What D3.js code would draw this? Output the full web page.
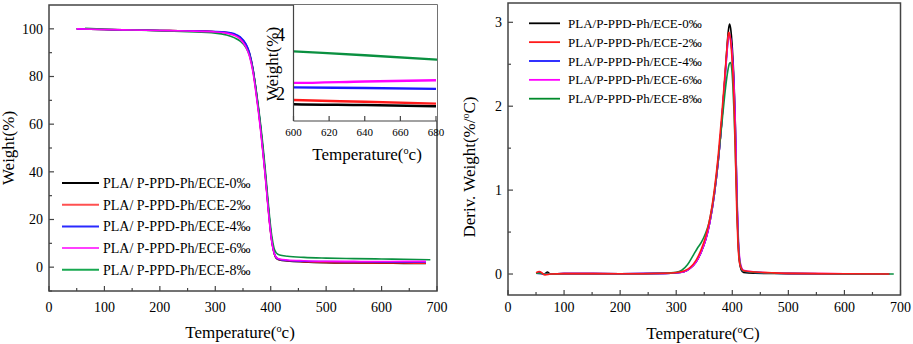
<!DOCTYPE html>
<html>
<head>
<meta charset="utf-8">
<script src="https://cdn.jsdelivr.net/npm/d3@7"></script>
<style>
  body { margin: 0; background: #fff; }
  svg { font-family: "Liberation Serif", "Times New Roman", serif; }
</style>
</head>
<body>
<div id="chart"></div>
<script>
// series names / colours
const namesL = ["PLA/ P-PPD-Ph/ECE-0‰", "PLA/ P-PPD-Ph/ECE-2‰", "PLA/ P-PPD-Ph/ECE-4‰", "PLA/ P-PPD-Ph/ECE-6‰", "PLA/ P-PPD-Ph/ECE-8‰"];
const namesR = ["PLA/P-PPD-Ph/ECE-0‰", "PLA/P-PPD-Ph/ECE-2‰", "PLA/P-PPD-Ph/ECE-4‰", "PLA/P-PPD-Ph/ECE-6‰", "PLA/P-PPD-Ph/ECE-8‰"];
const colors = ["#000000", "#ff1a1a", "#1a1aff", "#ff00ff", "#0a9040"];
const legendColorsL = ["#000000", "#ff5050", "#2a2aff", "#ff40ff", "#18a850"];

// TGA curves: [temperature, weight %]
const tga0 = [[50,100],[100,99.7],[150,99.5],[200,99.3],[250,99.1],[300,98.8],[320,98.4],[335,97.6],[345,96.3],[355,93.5],[362,89.5],[368,83],[373,75],[378,66],[382,58],[386,49],[390,39.5],[394,29],[398,19],[402,11],[406,6],[410,3.8],[416,3.0],[430,2.6],[460,2.2],[500,1.9],[550,1.75],[600,1.64],[640,1.61],[680,1.57]];
const tga2 = [[50,100],[100,99.7],[150,99.5],[200,99.3],[250,99.1],[300,98.8],[320,98.4],[335,97.5],[345,96.2],[355,93.2],[362,89],[368,82.5],[373,74.5],[378,65.5],[382,57.5],[386,48.5],[390,39],[394,28.5],[398,18.5],[402,10.8],[406,6],[410,3.9],[416,3.1],[430,2.7],[460,2.3],[500,2.0],[550,1.85],[600,1.78],[640,1.72],[680,1.66]];
const tga4 = [[50,100],[100,99.7],[150,99.5],[200,99.3],[250,99.1],[300,98.9],[320,98.6],[335,97.9],[345,96.6],[355,93.8],[362,89.8],[368,83.3],[373,75.3],[378,66.3],[382,58.3],[386,49.3],[390,39.8],[394,29.3],[398,19.3],[402,11.2],[406,6.2],[410,4.0],[416,3.2],[430,2.8],[460,2.5],[500,2.35],[550,2.27],[600,2.21],[640,2.19],[680,2.16]];
const tga6 = [[50,100],[100,99.7],[150,99.5],[200,99.3],[250,99.1],[300,98.7],[320,98.2],[335,97.2],[345,95.7],[355,92.5],[362,88.3],[368,81.8],[373,73.8],[378,64.8],[382,56.8],[386,47.8],[390,38.5],[394,28],[398,18.3],[402,10.6],[406,6.0],[410,4.2],[416,3.4],[430,3.0],[460,2.7],[500,2.5],[550,2.42],[600,2.36],[640,2.41],[680,2.45]];
const tga8 = [[65,100.2],[100,99.8],[150,99.5],[200,99.2],[250,98.8],[300,98.2],[320,97.4],[335,96.2],[345,94.8],[355,92.2],[362,88.6],[368,82.8],[373,75.5],[378,67],[382,59.5],[386,51],[390,41.5],[394,31],[398,21],[402,13],[406,8],[410,6.0],[416,5.1],[430,4.6],[460,4.1],[500,3.8],[550,3.6],[600,3.43],[640,3.3],[688,3.12]];
const tgaSeries = [tga0, tga2, tga4, tga6, tga8];

// DTG curves: [temperature, deriv. weight %/°C]
const dtg0 = [[50,0.01],[58,0.015],[64,-0.005],[70,0.025],[76,0.0],[100,0.005],[200,0.004],[280,0.008],[300,0.015],[315,0.03],[325,0.07],[335,0.14],[345,0.27],[353,0.42],[360,0.62],[368,0.95],[375,1.35],[381,1.8],[386,2.25],[390,2.65],[393,2.9],[395,2.98],[397,2.93],[400,2.7],[403,2.3],[405,1.9],[407,1.3],[409,0.7],[411,0.32],[413,0.14],[416,0.05],[420,0.02],[440,0.01],[500,0.005],[600,0.002],[680,0.0]];
const dtg2 = [[50,0.015],[56,0.03],[62,0.005],[66,-0.01],[76,0.0],[100,0.005],[200,0.004],[280,0.01],[300,0.018],[315,0.04],[325,0.08],[335,0.16],[345,0.3],[353,0.46],[360,0.66],[368,1.0],[375,1.42],[381,1.88],[386,2.3],[390,2.65],[393,2.86],[394,2.88],[396,2.83],[399,2.62],[402,2.25],[404,1.85],[406,1.3],[408,0.75],[410,0.38],[412,0.18],[415,0.08],[420,0.04],[440,0.025],[470,0.015],[500,0.008],[600,0.003],[680,0.0]];
const dtg4 = [[50,0.01],[76,0.0],[100,0.005],[200,0.004],[280,0.008],[300,0.015],[315,0.03],[325,0.07],[335,0.14],[345,0.27],[353,0.42],[360,0.62],[368,0.95],[375,1.35],[381,1.8],[386,2.25],[390,2.6],[393,2.82],[395,2.86],[397,2.8],[400,2.6],[403,2.25],[405,1.85],[407,1.3],[409,0.75],[411,0.36],[413,0.17],[416,0.07],[420,0.035],[440,0.02],[500,0.006],[600,0.002],[680,0.0]];
const dtg6 = [[50,0.01],[76,0.0],[100,0.005],[200,0.004],[280,0.008],[300,0.015],[315,0.03],[325,0.07],[335,0.14],[345,0.27],[353,0.42],[360,0.62],[368,0.95],[375,1.35],[381,1.8],[386,2.25],[390,2.6],[393,2.82],[395,2.85],[397,2.8],[400,2.6],[403,2.25],[405,1.88],[407,1.35],[409,0.8],[411,0.4],[413,0.2],[416,0.09],[420,0.045],[440,0.025],[500,0.008],[600,0.003],[680,0.0]];
const dtg8 = [[50,0.01],[76,0.0],[100,0.004],[200,0.004],[280,0.01],[300,0.02],[310,0.045],[320,0.11],[330,0.22],[338,0.31],[345,0.38],[352,0.48],[358,0.6],[364,0.8],[370,1.08],[377,1.5],[383,1.9],[388,2.22],[392,2.42],[395,2.51],[397,2.52],[399,2.45],[401,2.25],[403,1.95],[405,1.55],[407,1.1],[409,0.65],[411,0.33],[413,0.16],[416,0.07],[420,0.035],[440,0.02],[500,0.006],[600,0.002],[688,0.0]];
const dtgSeries = [dtg0, dtg2, dtg4, dtg6, dtg8];

const xTicks = [0, 100, 200, 300, 400, 500, 600, 700];
const yTicksL = [0, 20, 40, 60, 80, 100];
const yTicksR = [0, 1, 2, 3];
const insetXTicks = [600, 620, 640, 660, 680];
const insetYTicks = [2, 4];

const svg = d3.select("#chart").append("svg")
  .attr("width", 913).attr("height", 344);

const frameColor = "#444";

function frame(g, x0, y0, x1, y1) {
  g.append("rect").attr("x", x0).attr("y", y0)
    .attr("width", x1 - x0).attr("height", y1 - y0)
    .attr("fill", "none").attr("stroke", frameColor).attr("stroke-width", 1.5);
}

function ticksX(g, x, y, majors, minors, labels, fs, labelDy) {
  minors.forEach(v => g.append("line").attr("x1", x(v)).attr("x2", x(v))
    .attr("y1", y).attr("y2", y - 3).attr("stroke", frameColor).attr("stroke-width", 1.2));
  majors.forEach(v => {
    g.append("line").attr("x1", x(v)).attr("x2", x(v))
      .attr("y1", y).attr("y2", y - 5).attr("stroke", frameColor).attr("stroke-width", 1.2);
    if (labels) g.append("text").attr("x", x(v)).attr("y", y + labelDy)
      .attr("text-anchor", "middle").attr("font-size", fs).text(v);
  });
}

function ticksY(g, y, x, majors, minors, fs, labelDx) {
  minors.forEach(v => g.append("line").attr("y1", y(v)).attr("y2", y(v))
    .attr("x1", x).attr("x2", x + 3).attr("stroke", frameColor).attr("stroke-width", 1.2));
  majors.forEach(v => {
    g.append("line").attr("y1", y(v)).attr("y2", y(v))
      .attr("x1", x).attr("x2", x + 5).attr("stroke", frameColor).attr("stroke-width", 1.2);
    g.append("text").attr("x", x - labelDx).attr("y", y(v))
      .attr("dy", "0.35em").attr("text-anchor", "end").attr("font-size", fs).text(v);
  });
}

function tempLabel(g, x, y, fs, letter) {
  const t = g.append("text").attr("x", x).attr("y", y)
    .attr("text-anchor", "middle").attr("font-size", fs);
  t.append("tspan").text("Temperature(");
  t.append("tspan").attr("font-size", fs * 0.6).attr("dy", -fs * 0.38).text("o");
  t.append("tspan").attr("dy", fs * 0.38).text(letter + ")");
}

// ---------- left panel: TGA ----------
const xL = d3.scaleLinear().domain([0, 700]).range([49, 437]);
const yL = d3.scaleLinear().domain([-10, 110]).range([291, 5]);
const gL = svg.append("g");

const lineL = d3.line().x(d => xL(d[0])).y(d => yL(d[1])).curve(d3.curveMonotoneX);
const drawOrderL = [0, 1, 2, 4, 3];
drawOrderL.forEach(i => gL.append("path").datum(tgaSeries[i])
  .attr("d", lineL).attr("fill", "none").attr("stroke", colors[i]).attr("stroke-width", 1.6));

frame(gL, 49, 5, 437, 291);
ticksX(gL, xL, 291, xTicks, d3.range(50, 700, 100), true, 14, 21);
ticksY(gL, yL, 49, yTicksL, [-10, 10, 30, 50, 70, 90], 14, 6);
tempLabel(gL, 240, 338, 17, "c");
gL.append("text").attr("transform", "translate(14,148) rotate(-90)")
  .attr("text-anchor", "middle").attr("font-size", 17).text("Weight(%)");

// legend left
namesL.forEach((n, i) => {
  const yy = 183 + i * 21.7;
  gL.append("line").attr("x1", 62).attr("x2", 99).attr("y1", yy).attr("y2", yy)
    .attr("stroke", legendColorsL[i]).attr("stroke-width", 2);
  gL.append("text").attr("x", 103).attr("y", yy).attr("dy", "0.35em")
    .attr("font-size", 14).text(n);
});

// inset
const xI = d3.scaleLinear().domain([600, 680]).range([293.5, 436]);
const yI = d3.scaleLinear().domain([1.07, 5]).range([121, 5]);
const gI = svg.append("g");
gI.append("rect").attr("x", 293.5).attr("y", 5).attr("width", 143.5).attr("height", 116).attr("fill", "#fff");
const clip = gI.append("clipPath").attr("id", "ic").append("rect")
  .attr("x", 293.5).attr("y", 5).attr("width", 143.5).attr("height", 116);
const lineI = d3.line().x(d => xI(d[0])).y(d => yI(d[1])).curve(d3.curveMonotoneX);
const gIc = gI.append("g").attr("clip-path", "url(#ic)");
drawOrderL.forEach(i => gIc.append("path").datum(tgaSeries[i].filter(d => d[0] >= 550))
  .attr("d", lineI).attr("fill", "none").attr("stroke", colors[i]).attr("stroke-width", 2.4));
gI.append("line").attr("x1", 293.5).attr("x2", 293.5).attr("y1", 5).attr("y2", 121)
  .attr("stroke", frameColor).attr("stroke-width", 1.2);
gI.append("line").attr("x1", 293.5).attr("x2", 437).attr("y1", 121).attr("y2", 121)
  .attr("stroke", frameColor).attr("stroke-width", 1.2);
ticksX(gI, xI, 121, insetXTicks, [], true, 11, 15);
insetYTicks.forEach(v => gI.append("text").attr("x", 285).attr("y", yI(v)).attr("dy", "0.35em")
  .attr("text-anchor", "end").attr("font-size", 18).text(v));
gI.append("text").attr("transform", "translate(278,64) rotate(-90)")
  .attr("text-anchor", "middle").attr("font-size", 17).text("Weight(%)");
tempLabel(gI, 367, 160, 17, "c");

// ---------- right panel: DTG ----------
const xR = d3.scaleLinear().domain([0, 700]).range([508, 900.5]);
const yR = d3.scaleLinear().domain([-0.25, 3.23]).range([295, 3]);
const gR = svg.append("g");
const lineR = d3.line().x(d => xR(d[0])).y(d => yR(d[1])).curve(d3.curveMonotoneX);
const drawOrderR = [0, 2, 3, 4, 1];
drawOrderR.forEach(i => gR.append("path").datum(dtgSeries[i])
  .attr("d", lineR).attr("fill", "none").attr("stroke", colors[i]).attr("stroke-width", 1.6));

frame(gR, 508, 3, 900.5, 295);
ticksX(gR, xR, 295, xTicks, d3.range(50, 700, 100), true, 14, 17);
ticksY(gR, yR, 508, yTicksR, [0.5, 1.5, 2.5], 14, 6);
tempLabel(gR, 703, 339, 17, "C");
const dl = gR.append("text").attr("transform", "translate(475,167) rotate(-90)")
  .attr("text-anchor", "middle").attr("font-size", 17);
dl.append("tspan").text("Deriv. Weight(%/");
dl.append("tspan").attr("font-size", 10).attr("dy", -6).text("o");
dl.append("tspan").attr("dy", 6).text("C)");

namesR.forEach((n, i) => {
  const yy = 23.3 + i * 18.85;
  gR.append("line").attr("x1", 529).attr("x2", 560).attr("y1", yy).attr("y2", yy)
    .attr("stroke", colors[i] === "#0a9040" ? "#008a2a" : colors[i]).attr("stroke-width", 1.8);
  gR.append("text").attr("x", 568).attr("y", yy).attr("dy", "0.35em")
    .attr("font-size", 13).text(n);
});
</script>
</body>
</html>
